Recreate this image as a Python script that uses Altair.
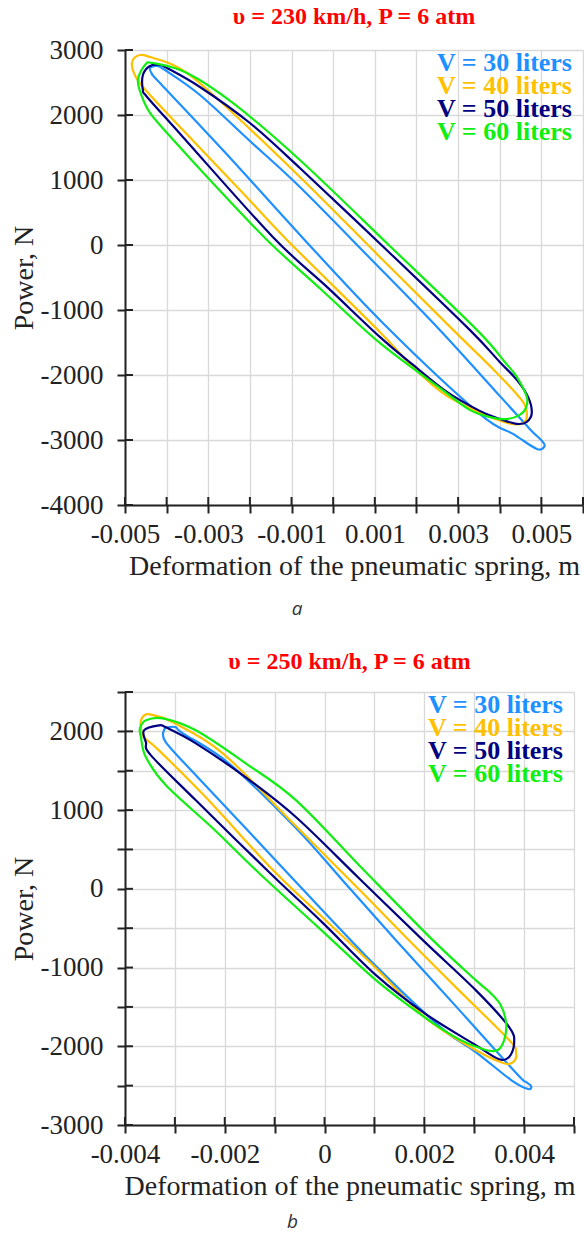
import altair as alt
import pandas as pd

# ---------------- values ----------------
series = ["V = 30 liters", "V = 40 liters", "V = 50 liters", "V = 60 liters"]
colors = ["#1E90FF", "#FFC000", "#000080", "#11EE11"]

# panel a: v = 230 km/h, P = 6 atm
a30_x = [-0.00440, -0.00423, -0.00404, -0.00320, -0.00200, -0.00080, 0.00088, 0.00256, 0.00400, 0.00472,
         0.00499, 0.00508, 0.00489, 0.00432, 0.00352, 0.00124, -0.00073, -0.00243, -0.00416, -0.00435]
a30_y = [2723, 2754, 2692, 2308, 1600, 893, -199, -1306, -2321, -2829,
         -2998, -3090, -3137, -2906, -2598, -1230, 109, 1308, 2492, 2631]

a40_x = [-0.00464, -0.00440, -0.00375, -0.00296, -0.00080, 0.00112, 0.00288, 0.00393, 0.00456, 0.00465, 0.00456,
         0.00429, 0.00376, 0.00273, 0.00191, 0.00112, -0.00111, -0.00217, -0.00361, -0.00457, -0.00481, -0.00481]
a40_y = [2923, 2892, 2739, 2354, 1047, -184, -1306, -1968, -2414, -2644, -2737,
         -2752, -2644, -2321, -1875, -1337, 78, 800, 1770, 2431, 2692, 2846]

a50_x = [-0.00440, -0.00416, -0.00399, -0.00320, -0.00200, -0.00080, 0.00136, 0.00328, 0.00400, 0.00441, 0.00468,
         0.00477, 0.00465, 0.00441, 0.00400, 0.00352, 0.00273, 0.00192, 0.00112, -0.00015, -0.00145, -0.00361,
         -0.00447, -0.00457, -0.00457]
a50_y = [2754, 2769, 2723, 2431, 1877, 1185, -122, -1306, -1799, -2075, -2337,
         -2583, -2721, -2752, -2675, -2552, -2260, -1845, -1414, -645, 124, 1662,
         2277, 2385, 2615]

a60_x = [-0.00452, -0.00433, -0.00351, -0.00241, -0.00080, 0.00136, 0.00345, 0.00412, 0.00441, 0.00465, 0.00463,
         0.00448, 0.00420, 0.00384, 0.00328, 0.00256, 0.00112, -0.00025, -0.00159, -0.00296, -0.00399, -0.00440,
         -0.00459, -0.00469]
a60_y = [2769, 2800, 2646, 2185, 1308, -15, -1306, -1799, -2029, -2337, -2506,
         -2614, -2675, -2660, -2537, -2198, -1506, -707, 78, 1001, 1723, 2031,
         2277, 2539]

# panel b: v = 250 km/h, P = 6 atm
b30_x = [-0.00322, -0.00314, -0.00298, -0.00284, -0.00192, -0.00057, 0.00043, 0.00143, 0.00263, 0.00384,
         0.00404, 0.00414, 0.00408, 0.00374, 0.00303, 0.00237, 0.00103, -0.00057, -0.00158, -0.00258, -0.00318]
b30_y = [2013, 2051, 2051, 1975, 1594, 769, 58, -652, -1490, -2340,
         -2454, -2505, -2543, -2429, -2073, -1782, -982, 84, 769, 1442, 1860]

b40_x = [-0.00368, -0.00358, -0.00342, -0.00304, -0.00204, -0.00057, 0.00057, 0.00169, 0.00269, 0.00370,
         0.00384, 0.00378, 0.00358, 0.00303, 0.00203, 0.00103, 0.00000, -0.00103, -0.00238, -0.00332,
         -0.00362, -0.00368]
b40_y = [2140, 2216, 2203, 2114, 1721, 794, 71, -652, -1287, -1921,
         -2086, -2200, -2213, -2048, -1642, -1008, -386, 236, 1162, 1759,
         1924, 2038]

b50_x = [-0.00362, -0.00332, -0.00318, -0.00258, -0.00158, -0.00057, 0.00069, 0.00197, 0.00303, 0.00370,
         0.00380, 0.00370, 0.00349, 0.00303, 0.00203, 0.00103, -0.00003, -0.00111, -0.00258, -0.00348,
         -0.00358]
b50_y = [2013, 2076, 2051, 1848, 1416, 909, 135, -652, -1287, -1756,
         -1959, -2137, -2162, -1985, -1591, -1096, -436, 211, 1124, 1695,
         1860]

b60_x = [-0.00358, -0.00324, -0.00258, -0.00158, -0.00057, 0.00079, 0.00217, 0.00303, 0.00333, 0.00353,
         0.00364, 0.00360, 0.00347, 0.00323, 0.00269, 0.00203, 0.00103, -0.00013, -0.00131, -0.00224,
         -0.00318, -0.00358, -0.00368, -0.00370]
b60_y = [2140, 2165, 2013, 1594, 1124, 236, -652, -1160, -1325, -1477,
         -1705, -1921, -2048, -2048, -1909, -1642, -1160, -487, 198, 769,
         1315, 1670, 1924, 2038]

# axis ticks
xa_ticks = [-0.005, -0.004, -0.003, -0.002, -0.001, 0.0, 0.001, 0.002, 0.003, 0.004, 0.005, 0.006]
ya_ticks = [-4000, -3000, -2000, -1000, 0, 1000, 2000, 3000]
xb_ticks = [-0.004, -0.003, -0.002, -0.001, 0.0, 0.001, 0.002, 0.003, 0.004, 0.005]
yb_ticks = [-3000, -2500, -2000, -1500, -1000, -500, 0, 500, 1000, 1500, 2000, 2500]

title_a = "υ = 230 km/h, P = 6 atm"
title_b = "υ = 250 km/h, P = 6 atm"
x_title = "Deformation of the pneumatic spring, m"
y_title = "Power, N"

SERIF = "Liberation Serif"
INK = "#222222"

xa_expr = ("round(datum.value*1000) % 2 != 0 ? (datum.value < 0 ? '-' : '') + "
           "format(abs(datum.value), '.3f') : ''")
xb_expr = ("round(datum.value*1000) % 2 == 0 ? (round(datum.value*1000) == 0 ? '0' : "
           "(datum.value < 0 ? '-' : '') + format(abs(datum.value), '.3f')) : ''")
y_expr = "datum.value % 1000 == 0 ? (datum.value < 0 ? '-' : '') + format(abs(datum.value), 'd') : ''"


def common_axis(**kw):
    return alt.Axis(grid=True, gridColor="#d9d9d9", gridWidth=1.3,
                    domainColor=INK, domainWidth=2, tickColor=INK, tickWidth=2, tickSize=8,
                    labelFont=SERIF, labelFontSize=27, labelColor=INK, labelOverlap=False,
                    labelFlush=False, titleFont=SERIF, titleFontSize=28, titleFontWeight="normal",
                    titleColor=INK, **kw)


def panel(xs, ys, xdom, ydom, xticks, yticks, xexpr, title, toff, w, h):
    xenc = alt.X("x:Q", scale=alt.Scale(domain=xdom, nice=False, zero=False),
                 axis=common_axis(values=xticks, labelExpr=xexpr, title=x_title,
                                  labelPadding=8, titlePadding=5))
    yenc = alt.Y("y:Q", scale=alt.Scale(domain=ydom, nice=False, zero=False),
                 axis=common_axis(values=yticks, labelExpr=y_expr, title=y_title,
                                  labelPadding=14, titlePadding=2))
    layers = []
    for k in range(4):
        df = pd.DataFrame({"x": xs[k], "y": ys[k], "i": list(range(len(xs[k])))})
        layers.append(
            alt.Chart(df).mark_line(strokeWidth=2.2, interpolate="cardinal-closed", color=colors[k])
            .encode(x=xenc, y=yenc, order="i:Q")
        )
    # inner half of the crossing tick marks
    layers.append(
        alt.Chart(pd.DataFrame({"y": yticks})).mark_rule(color=INK, strokeWidth=2)
        .encode(y=yenc, x=alt.value(0), x2=alt.value(8))
    )
    layers.append(
        alt.Chart(pd.DataFrame({"x": xticks})).mark_rule(color=INK, strokeWidth=2)
        .encode(x=xenc, y=alt.value(h - 8), y2=alt.value(h))
    )
    for k in range(4):
        layers.append(
            alt.Chart(pd.DataFrame({"t": [series[k]]}))
            .mark_text(align="right", baseline="alphabetic", font=SERIF, fontWeight="bold",
                       fontSize=26, color=colors[k])
            .encode(text="t:N", x=alt.value(w - 11), y=alt.value(21 + 23 * k))
        )
    return alt.layer(*layers).properties(
        width=w, height=h,
        title=alt.TitleParams(text=title, font=SERIF, fontSize=24, fontWeight="bold",
                              color="#FF0000", anchor="middle", offset=toff),
    )


pa = panel([a30_x, a40_x, a50_x, a60_x], [a30_y, a40_y, a50_y, a60_y],
           [-0.005, 0.006], [-4000, 3000], xa_ticks, ya_ticks, xa_expr, title_a, 7, 458, 455)
pb = panel([b30_x, b40_x, b50_x, b60_x], [b30_y, b40_y, b50_y, b60_y],
           [-0.004, 0.005], [-3000, 2500], xb_ticks, yb_ticks, xb_expr, title_b, 4, 449, 433)


def caption(t, off):
    return alt.TitleParams(text=t, orient="bottom", anchor="middle", font="Open Sans",
                           fontStyle="italic", fontSize=19, fontWeight="normal", color="#333", offset=off)


chart = alt.vconcat(
    alt.vconcat(pa, title=caption("a", 20)),
    alt.vconcat(pb, title=caption("b", 13)),
    spacing=31,
).configure_view(stroke=None).properties(
    padding={"left": 10, "top": 5, "right": 0, "bottom": 5}
)

chart.save("out.html", embed_options={"renderer": "svg", "actions": False})
